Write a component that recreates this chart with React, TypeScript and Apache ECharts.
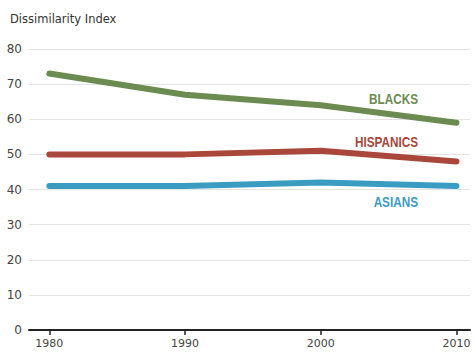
import React, { useEffect, useRef } from "react";
import * as echarts from "echarts";

const years = [1980, 1990, 2000, 2010];
const blacks = [73, 67, 64, 59];
const hispanics = [50, 50, 51, 48];
const asians = [41, 41, 42, 41];
const yTicks = [0, 10, 20, 30, 40, 50, 60, 70, 80];

const GREEN = "#6b8b50";
const RED = "#a9473a";
const BLUE = "#3b9cc2";
const FONT = "'DejaVu Sans', Arial, sans-serif";
const TAG_FONT = "'Liberation Sans', Arial, sans-serif";

const pairs = (vals: number[]) => years.map((y, i) => [y, vals[i]]);

export default function App() {
  const ref = useRef<HTMLDivElement>(null);
  useEffect(() => {
    if (!ref.current) return;
    const chart = echarts.init(ref.current, undefined, { renderer: "svg" });
    const line = (name: string, data: number[], color: string) => ({
      name,
      type: "line",
      data: pairs(data),
      symbol: "none",
      lineStyle: { color, width: 6, cap: "round" },
      z: 3,
    });
    // series name tags, condensed horizontally around their right edge
    const tag = (text: string, y: number, color: string) => ({
      type: "group",
      x: 418,
      y,
      scaleX: 0.84,
      scaleY: 1,
      children: [
        {
          type: "text",
          x: 0,
          y: 0,
          style: { text, fill: color, font: `bold 14px ${TAG_FONT}`, align: "right", verticalAlign: "middle" },
        },
      ],
    });
    chart.setOption({
      animation: false,
      grid: { left: 29, right: 4, top: 49, bottom: 24 },
      xAxis: {
        type: "value",
        min: 1978.5,
        max: 2011,
        axisLine: { show: true, onZero: false, lineStyle: { color: "#222", width: 2 } },
        axisTick: { show: true, customValues: years, length: 5, lineStyle: { color: "#222", width: 1.5 } },
        axisLabel: {
          customValues: years,
          color: "#444",
          fontFamily: FONT,
          fontSize: 11,
          margin: 8,
          formatter: (v: number) => String(v),
        },
        splitLine: { show: false },
      },
      yAxis: {
        type: "value",
        min: 0,
        max: 80,
        interval: 10,
        axisLine: { show: false },
        axisTick: { show: false },
        axisLabel: {
          customValues: yTicks,
          color: "#444",
          fontFamily: FONT,
          fontSize: 12,
          margin: 7,
        },
        splitLine: { lineStyle: { color: "#e4e4e4", width: 1 } },
      },
      series: [
        line("BLACKS", blacks, GREEN),
        line("HISPANICS", hispanics, RED),
        line("ASIANS", asians, BLUE),
      ],
      graphic: [
        {
          type: "text",
          left: 10,
          top: 13,
          style: { text: "Dissimilarity Index", fill: "#333", font: `11.5px ${FONT}` },
        },
        tag("BLACKS", 99, GREEN),
        tag("HISPANICS", 142, RED),
        tag("ASIANS", 202, BLUE),
      ],
    });
    return () => chart.dispose();
  }, []);
  return <div ref={ref} style={{ width: 474, height: 354, position: "absolute", left: 0, top: 0 }} />;
}
